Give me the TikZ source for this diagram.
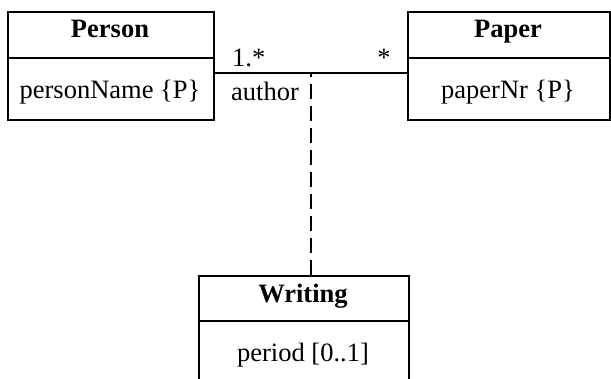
\documentclass[tikz,border=0pt]{standalone}
\usepackage{fontspec}
\setmainfont{Liberation Serif}
\begin{document}
\begin{tikzpicture}[x=1pt,y=-1pt,
  umlbox/.style={draw, line width=1.9pt, rectangle, anchor=north west, inner sep=0pt},
  divider/.style={line width=1.9pt},
  assoc/.style={line width=1.9pt},
  linkdash/.style={line width=1.9pt, dash pattern=on 15pt off 7pt},
  cname/.style={font=\fontsize{26.5}{31}\selectfont\bfseries, anchor=base, inner sep=0pt},
  attr/.style={font=\fontsize{26.5}{31}\selectfont, anchor=base, inner sep=0pt},
  rolelbl/.style={font=\fontsize{26.5}{31}\selectfont, anchor=base west, inner sep=0pt}]
  \useasboundingbox (0,0) rectangle (611,379);

  % Person class
  \node[umlbox, minimum width=206pt, minimum height=108pt] (person) at (7,11) {};
  \draw[divider] (7,58) -- (213,58);
  \node[cname] (personT) at (110,38) {Person};
  \node[attr] (personA) at (110,99) {personName \{P\}};

  % Paper class
  \node[umlbox, minimum width=202pt, minimum height=108pt] (paper) at (407,11) {};
  \draw[divider] (407,58) -- (609,58);
  \node[cname] (paperT) at (508,38) {Paper};
  \node[attr] (paperA) at (508,99) {paperNr \{P\}};

  % Writing association class
  \node[umlbox, minimum width=210pt, minimum height=108pt] (writing) at (198,275) {};
  \draw[divider] (198,321) -- (408,321);
  \node[cname] (writingT) at (303,303) {Writing};
  \node[attr] (writingA) at (303,362) {period [0..1]};

  % association Person -- Paper
  \coordinate (pl) at (person.east |- 0,73);
  \coordinate (pr) at (paper.west |- 0,73);
  \coordinate (mid) at (311,73);
  \draw[assoc] (pl) -- (pr);
  \node[rolelbl] (mult1) at (232,67) {1.*};
  \node[attr] (mult2) at (384,67) {*};
  \node[rolelbl] (role) at (231,101) {author};

  % dashed link to the association class
  \draw[linkdash] (writing.north -| mid) -- (mid);
\end{tikzpicture}
\end{document}
